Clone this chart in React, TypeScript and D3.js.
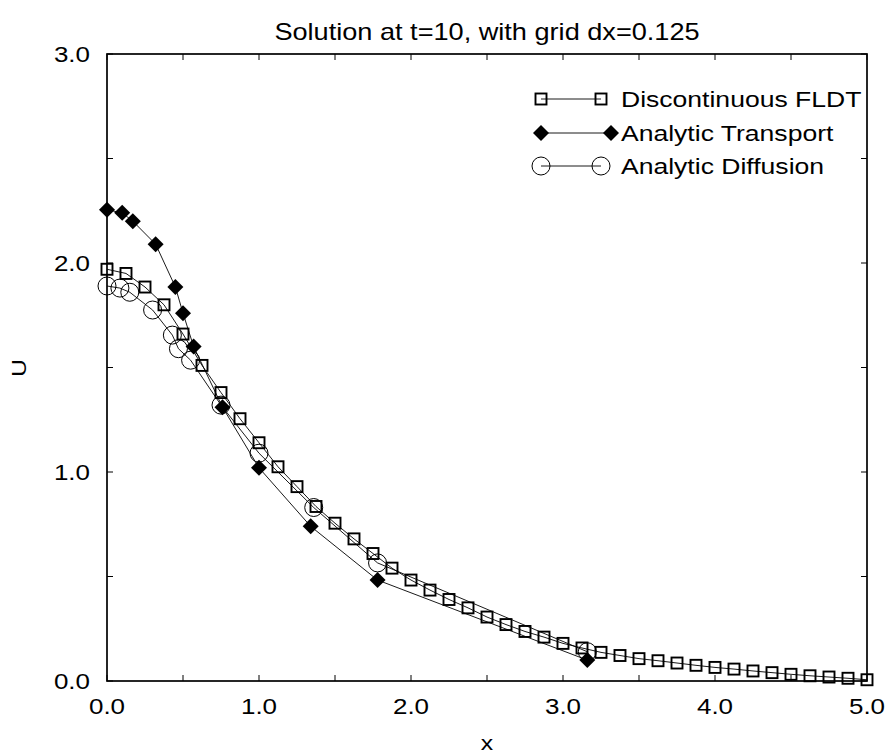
import React from "react";
import * as d3 from "d3";

const fldtX = d3.range(0, 41).map((i) => i * 0.125);
const fldtU = [
  1.97, 1.95, 1.885, 1.8, 1.66, 1.51, 1.38, 1.255, 1.14, 1.025, 0.93, 0.835,
  0.755, 0.68, 0.61, 0.54, 0.483, 0.435, 0.39, 0.35, 0.306, 0.27, 0.237, 0.21,
  0.18, 0.158, 0.137, 0.122, 0.107, 0.097, 0.086, 0.075, 0.065, 0.057, 0.048,
  0.04, 0.032, 0.025, 0.019, 0.013, 0.006,
];
const transportX = [0, 0.1, 0.17, 0.32, 0.45, 0.5, 0.57, 0.76, 1.0, 1.34, 1.78, 3.16];
const transportU = [2.255, 2.24, 2.2, 2.09, 1.885, 1.76, 1.6, 1.31, 1.02, 0.74, 0.483, 0.1];
const diffusionX = [0, 0.085, 0.15, 0.3, 0.43, 0.47, 0.55, 0.75, 1.0, 1.36, 1.78, 3.16];
const diffusionU = [1.89, 1.88, 1.86, 1.775, 1.655, 1.59, 1.535, 1.32, 1.09, 0.83, 0.565, 0.14];

const xTickLabels = ["0.0", "1.0", "2.0", "3.0", "4.0", "5.0"];
const yTickLabels = ["0.0", "1.0", "2.0", "3.0"];
const legendLabels = ["Discontinuous FLDT", "Analytic Transport", "Analytic Diffusion"];
const title = "Solution at t=10, with grid dx=0.125";

const W = 888;
const H = 754;
const L = 107, R = 867, T = 54, B = 681;
const FONT = "'Liberation Sans', Arial, Helvetica, sans-serif";
const STRETCH = 1.18;

function SText({ x, y, size, anchor, children, rotate }: any) {
  const t = rotate
    ? `translate(${x},${y}) rotate(${rotate}) scale(${STRETCH},1)`
    : `translate(${x},${y}) scale(${STRETCH},1)`;
  return (
    <text transform={t} fontFamily={FONT} fontSize={size} textAnchor={anchor || "start"} dominantBaseline="central" fill="#000">
      {children}
    </text>
  );
}

function Square({ cx, cy }: any) {
  const s = 11;
  return <rect x={cx - s / 2} y={cy - s / 2} width={s} height={s} fill="none" stroke="#000" strokeWidth={1.9} />;
}
function Diamond({ cx, cy }: any) {
  const r = 8;
  return <path d={`M${cx},${cy - r}L${cx + r},${cy}L${cx},${cy + r}L${cx - r},${cy}Z`} fill="#000" />;
}
function Circle({ cx, cy }: any) {
  return <circle cx={cx} cy={cy} r={9} fill="none" stroke="#000" strokeWidth={1} />;
}

export default function App() {
  const x = d3.scaleLinear().domain([0, 5]).range([L, R]);
  const y = d3.scaleLinear().domain([0, 3]).range([B, T]);
  const line = d3.line<[number, number]>().x((d) => x(d[0])).y((d) => y(d[1]));

  const fldt: [number, number][] = fldtX.map((v, i) => [v, fldtU[i]]);
  const tr: [number, number][] = transportX.map((v, i) => [v, transportU[i]]);
  const df: [number, number][] = diffusionX.map((v, i) => [v, diffusionU[i]]);

  const xMajor = d3.range(0, 5.001, 0.5);
  const yMajor = d3.range(0, 3.001, 0.5);
  const tick = 6;

  const legY = [99, 133, 166];
  const legX1 = 541, legText = 621;
  const legX2 = [601, 611, 601];

  return (
    <svg width={W} height={H} style={{ position: "absolute", left: 0, top: 0, background: "#fff" }}>
      <rect width={W} height={H} fill="#fff" />
      <SText x={487} y={32} size={23} anchor="middle">{title}</SText>

      {/* ticks */}
      {xMajor.map((v, i) => (
        <g key={"xt" + i}>
          <line x1={x(v)} x2={x(v)} y1={B} y2={B - tick} stroke="#000" strokeWidth={1} />
          <line x1={x(v)} x2={x(v)} y1={T} y2={T + tick} stroke="#000" strokeWidth={1} />
        </g>
      ))}
      {yMajor.map((v, i) => (
        <g key={"yt" + i}>
          <line x1={L} x2={L + tick} y1={y(v)} y2={y(v)} stroke="#000" strokeWidth={1} />
          <line x1={R} x2={R - tick} y1={y(v)} y2={y(v)} stroke="#000" strokeWidth={1} />
        </g>
      ))}
      <rect x={L} y={T} width={R - L} height={B - T} fill="none" stroke="#000" strokeWidth={1.7} />

      {xTickLabels.map((s, i) => (
        <SText key={"xl" + i} x={x(+s)} y={706} size={22} anchor="middle">{s}</SText>
      ))}
      {yTickLabels.map((s, i) => (
        <SText key={"yl" + i} x={90} y={y(+s)} size={22} anchor="end">{s}</SText>
      ))}
      <SText x={487} y={743} size={21} anchor="middle">x</SText>
      <SText x={19} y={368} size={21} anchor="middle" rotate={-90}>U</SText>

      {/* series */}
      <path d={line(df) || ""} fill="none" stroke="#000" strokeWidth={0.9} />
      <path d={line(tr) || ""} fill="none" stroke="#000" strokeWidth={0.9} />
      <path d={line(fldt) || ""} fill="none" stroke="#000" strokeWidth={0.9} />
      {df.map((d, i) => <Circle key={"c" + i} cx={x(d[0])} cy={y(d[1])} />)}
      {tr.map((d, i) => <Diamond key={"d" + i} cx={x(d[0])} cy={y(d[1])} />)}
      {fldt.map((d, i) => <Square key={"s" + i} cx={x(d[0])} cy={y(d[1])} />)}

      {/* legend */}
      <g>
        <line x1={legX1} x2={legX2[0]} y1={legY[0]} y2={legY[0]} stroke="#000" strokeWidth={0.9} />
        <Square cx={legX1} cy={legY[0]} />
        <Square cx={legX2[0]} cy={legY[0]} />
        <line x1={legX1} x2={legX2[1]} y1={legY[1]} y2={legY[1]} stroke="#000" strokeWidth={0.9} />
        <Diamond cx={legX1} cy={legY[1]} />
        <Diamond cx={legX2[1]} cy={legY[1]} />
        <line x1={legX1} x2={legX2[2]} y1={legY[2]} y2={legY[2]} stroke="#000" strokeWidth={0.9} />
        <Circle cx={legX1} cy={legY[2]} />
        <Circle cx={legX2[2]} cy={legY[2]} />
        {legendLabels.map((s, i) => (
          <SText key={"lg" + i} x={legText} y={legY[i]} size={22.5} anchor="start">{s}</SText>
        ))}
      </g>
    </svg>
  );
}
